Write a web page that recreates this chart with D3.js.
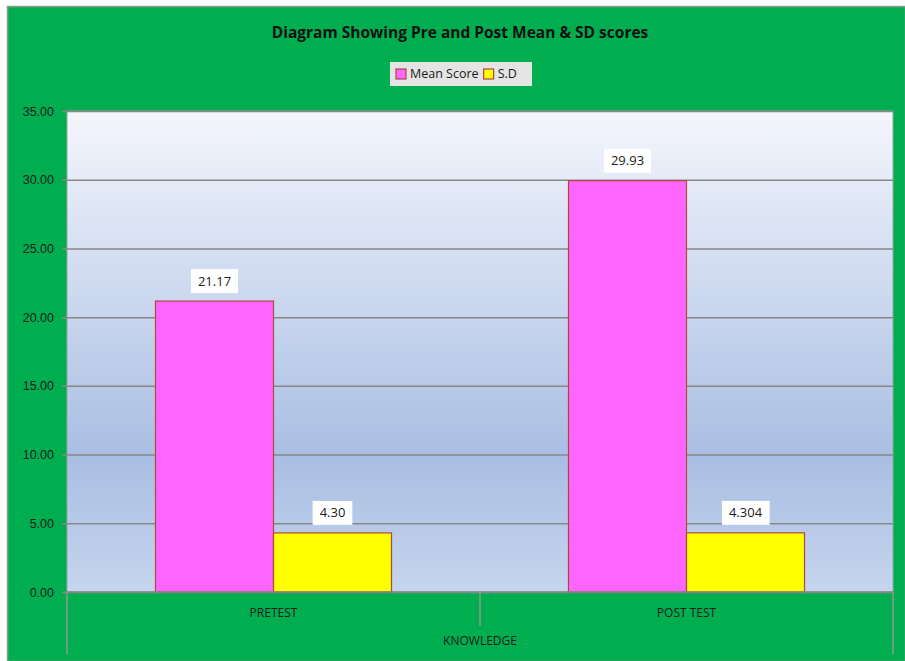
<!DOCTYPE html>
<html>
<head>
<meta charset="utf-8">
<script src="https://cdn.jsdelivr.net/npm/d3@7"></script>
<style>
  body { margin: 0; background: #fff; }
  svg { display: block; font-family: "Open Sans", "Liberation Sans", sans-serif; }
</style>
</head>
<body>
<script>
// Chart data
let categories = ["PRETEST", "POST TEST"];
let groupLabel = "KNOWLEDGE";
let seriesNames = ["Mean Score", "S.D"];
let meanScores = [21.17, 29.93];
let sdScores = [4.30, 4.304];
let valueLabels = [["21.17", "29.93"], ["4.30", "4.304"]];
let yTicks = [0, 5, 10, 15, 20, 25, 30, 35];

let opts = {
    width: 905,
    height: 661,
    plot: { left: 67, right: 893, top: 111, bottom: 592 }
};

let colors = {
    bg: "#00AE50",
    fills: ["#FF66FF", "#FFFF00"],
    stroke: "#B0483C",
    grid: "#878787",
    text: "#1b1b1b"
};

let svg = d3.select("body").append("svg")
    .attr("width", opts.width)
    .attr("height", opts.height);

// Background frame
svg.append("rect")
    .attr("x", 7.5).attr("y", 6.5)
    .attr("width", opts.width - 7).attr("height", opts.height - 6)
    .attr("fill", colors.bg)
    .attr("stroke", "#8a9a8f").attr("stroke-width", 1.5);

// Plot area gradient
let defs = svg.append("defs");
let grad = defs.append("linearGradient").attr("id", "plotGrad")
    .attr("x1", 0).attr("y1", 0).attr("x2", 0).attr("y2", 1);
grad.append("stop").attr("offset", "0%").attr("stop-color", "#F4F6FC");
grad.append("stop").attr("offset", "72%").attr("stop-color", "#A9BEE3");
grad.append("stop").attr("offset", "100%").attr("stop-color", "#C6D5EE");

let p = opts.plot;

let y = d3.scaleLinear().domain([0, 35]).range([p.bottom, p.top]);
let x0 = d3.scaleBand().domain(categories).range([p.left, p.right]).paddingInner(0).paddingOuter(0);
let x1 = d3.scaleBand().domain(seriesNames).range([0, x0.bandwidth()]).paddingInner(0).paddingOuter(0.75);

svg.append("rect")
    .attr("x", p.left).attr("y", p.top)
    .attr("width", p.right - p.left).attr("height", p.bottom - p.top)
    .attr("fill", "url(#plotGrad)")
    .attr("stroke", "#9aa3a8").attr("stroke-width", 1);

// Gridlines and y axis
let yAxis = d3.axisLeft(y)
    .tickValues(yTicks)
    .tickFormat(d3.format(".2f"))
    .tickSize(-(p.right - p.left + 5))
    .tickPadding(8);

let gy = svg.append("g")
    .attr("transform", `translate(${p.left - 5},0)`)
    .call(yAxis);
gy.select(".domain").remove();
gy.selectAll(".tick line")
    .attr("stroke", colors.grid).attr("stroke-width", 1.5);
gy.selectAll(".tick text")
    .attr("fill", colors.text).attr("font-size", 12.5);

// Bars
let series = [meanScores, sdScores];
series.forEach((vals, si) => {
    svg.append("g").selectAll("rect")
        .data(vals)
        .enter()
        .append("rect")
        .attr("x", (d, i) => x0(categories[i]) + x1(seriesNames[si]))
        .attr("y", (d) => y(d))
        .attr("width", x1.bandwidth())
        .attr("height", (d) => y(0) - y(d))
        .attr("fill", colors.fills[si])
        .attr("stroke", colors.stroke)
        .attr("stroke-width", 1.2);
});

// Value labels
series.forEach((vals, si) => {
    let g = svg.append("g").selectAll("g")
        .data(vals)
        .enter()
        .append("g")
        .attr("transform", (d, i) => {
            let cx = x0(categories[i]) + x1(seriesNames[si]) + x1.bandwidth() / 2;
            return `translate(${cx},${y(d) - 20})`;
        });
    g.append("text")
        .attr("text-anchor", "middle")
        .attr("dy", "0.35em")
        .attr("font-size", 13)
        .attr("fill", colors.text)
        .text((d, i) => valueLabels[si][i])
        .each(function () {
            let b = this.getBBox();
            d3.select(this.parentNode).insert("rect", "text")
                .attr("x", b.x - 7).attr("y", -12)
                .attr("width", b.width + 14).attr("height", 24)
                .attr("fill", "#ffffff");
        });
});

// Baseline
svg.append("line")
    .attr("x1", p.left).attr("x2", p.right)
    .attr("y1", p.bottom).attr("y2", p.bottom)
    .attr("stroke", colors.grid).attr("stroke-width", 1.5);

// Category axis with group dividers
let dividers = [p.left, x0(categories[1]), p.right];
svg.append("g").selectAll("line")
    .data(dividers)
    .enter()
    .append("line")
    .attr("x1", (d) => d).attr("x2", (d) => d)
    .attr("y1", p.bottom)
    .attr("y2", (d, i) => (i === 1 ? 626 : 654))
    .attr("stroke", "#8c9a90").attr("stroke-width", 1.5);

svg.append("g").selectAll("text")
    .data(categories)
    .enter()
    .append("text")
    .attr("x", (d) => x0(d) + x0.bandwidth() / 2)
    .attr("y", 617)
    .attr("text-anchor", "middle")
    .attr("font-size", 12)
    .attr("fill", colors.text)
    .text((d) => d);

svg.append("text")
    .attr("x", (p.left + p.right) / 2)
    .attr("y", 645)
    .attr("text-anchor", "middle")
    .attr("font-size", 12)
    .attr("fill", colors.text)
    .text(groupLabel);

// Title
svg.append("text")
    .attr("x", 460).attr("y", 38)
    .attr("text-anchor", "middle")
    .attr("font-size", 15.5)
    .attr("font-weight", "bold")
    .attr("fill", "#111")
    .text("Diagram Showing Pre and Post Mean & SD scores");

// Legend
let legend = svg.append("g").attr("transform", "translate(390,62)");
legend.append("rect")
    .attr("width", 142).attr("height", 24)
    .attr("fill", "#E4E4E4");
let lx = 6;
seriesNames.forEach((name, i) => {
    legend.append("rect")
        .attr("x", lx).attr("y", 7)
        .attr("width", 10).attr("height", 10)
        .attr("fill", colors.fills[i])
        .attr("stroke", colors.stroke).attr("stroke-width", 1.2);
    let t = legend.append("text")
        .attr("x", lx + 14).attr("y", 12)
        .attr("dy", "0.35em")
        .attr("font-size", 12.5)
        .attr("fill", colors.text)
        .text(name);
    lx += 14 + t.node().getComputedTextLength() + 5;
});
</script>
</body>
</html>
